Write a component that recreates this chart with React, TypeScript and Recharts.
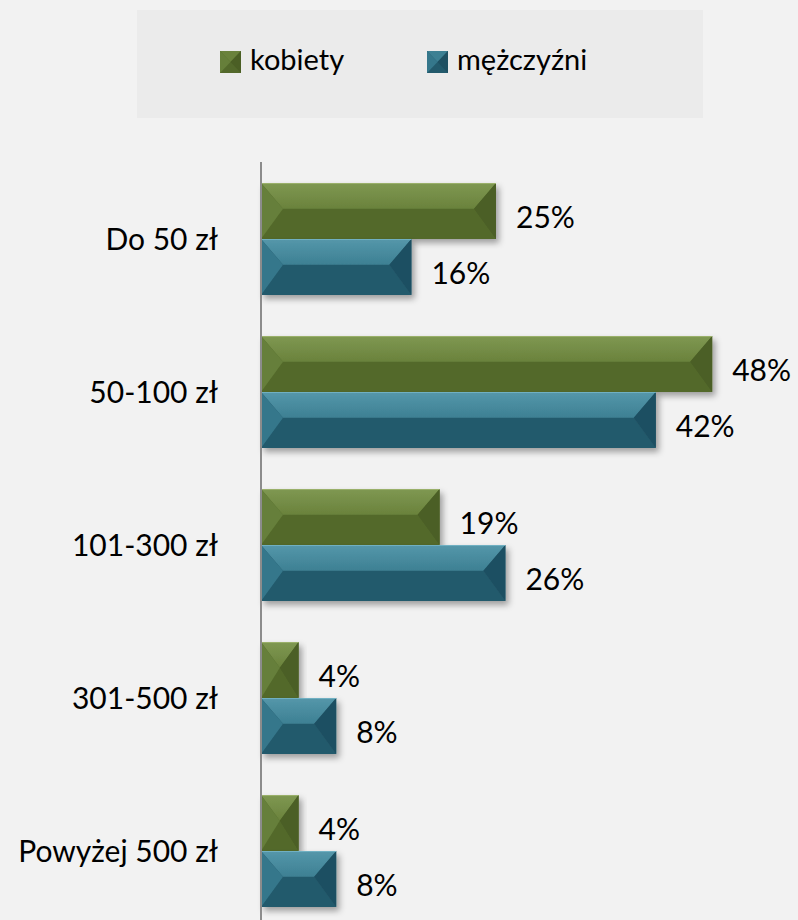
import React from "react";
import { BarChart, Bar, XAxis, YAxis, LabelList } from "recharts";

const categories = ["Do 50 zł", "50-100 zł", "101-300 zł", "301-500 zł", "Powyżej 500 zł"];
const kobiety = [25, 48, 19, 4, 4];
const mezczyzni = [16, 42, 26, 8, 8];
const seriesNames = ["kobiety", "mężczyźni"];

const data = categories.map((name, i) => ({
  name,
  kobiety: kobiety[i],
  mezczyzni: mezczyzni[i],
}));

const FONT = "Lato, 'Open Sans', sans-serif";

type Palette = { top: string; top2: string; bottom: string; left: string; right: string; edge: string };

const green: Palette = {
  top: "#7f9852",
  top2: "#6a823c",
  bottom: "#53692b",
  left: "#667f3a",
  right: "#4b5f25",
  edge: "#9ab06b",
};

const teal: Palette = {
  top: "#5597aa",
  top2: "#3d8093",
  bottom: "#235a6c",
  left: "#35778b",
  right: "#1f5062",
  edge: "#6fb0c2",
};

// bevelled bar, like the excel "angle" bevel
function bevelShape(p: Palette, id: string) {
  return (props: any) => {
    const { x, y, width, height } = props;
    if (!width || width <= 0) return <g />;
    const b = Math.min(22, width / 2);
    const m = y + height * 0.46;
    return (
      <g filter="url(#shadow)">
        <rect x={x} y={y} width={width} height={height} fill={p.bottom} />
        <polygon
          points={`${x},${y} ${x + width},${y} ${x + width - b},${m} ${x + b},${m}`}
          fill={`url(#top-${id})`}
        />
        <polygon points={`${x},${y} ${x + b},${m} ${x},${y + height}`} fill={p.left} />
        <polygon
          points={`${x + width},${y} ${x + width - b},${m} ${x + width},${y + height}`}
          fill={p.right}
        />
        <line x1={x} y1={y + 0.5} x2={x + width} y2={y + 0.5} stroke={p.edge} strokeWidth={1} />
      </g>
    );
  };
}

const renderValue = (props: any) => {
  const { x, y, width, height, value } = props;
  return (
    <text
      x={x + width + 20}
      y={y + height / 2 + 17}
      fontSize={30}
      fontFamily={FONT}
      fill="#000"
    >
      {value}%
    </text>
  );
};

const CategoryTick = (props: any) => {
  const { x, y, payload } = props;
  return (
    <text x={x - 35} y={y + 11} textAnchor="end" fontSize={30} fontFamily={FONT} fill="#000">
      {payload.value}
    </text>
  );
};

function LegendIcon({ p }: { p: Palette }) {
  return (
    <svg width={21} height={22} style={{ display: "block" }}>
      <rect x={0} y={0} width={21} height={22} fill={p.bottom} />
      <polygon points="0,0 21,0 10.5,11" fill={p.top2} />
      <polygon points="0,0 10.5,11 0,22" fill={p.left} />
      <polygon points="21,0 10.5,11 21,22" fill={p.right} />
    </svg>
  );
}

export default function App() {
  return (
    <div
      style={{
        position: "fixed",
        left: 0,
        top: 0,
        width: 798,
        height: 920,
        overflow: "hidden",
        background: "#f2f2f2",
        fontFamily: FONT,
      }}
    >
      <div
        style={{
          position: "absolute",
          left: 137,
          top: 10,
          width: 566,
          height: 108,
          background: "#ebebeb",
        }}
      >
        <div style={{ position: "absolute", left: 83, top: 41 }}>
          <LegendIcon p={green} />
        </div>
        <div style={{ position: "absolute", left: 113, top: 31, fontSize: 29 }}>{seriesNames[0]}</div>
        <div style={{ position: "absolute", left: 290, top: 41 }}>
          <LegendIcon p={teal} />
        </div>
        <div style={{ position: "absolute", left: 320, top: 31, fontSize: 29 }}>{seriesNames[1]}</div>
      </div>

      <div style={{ position: "absolute", left: 0, top: 0 }}>
        <BarChart
          width={798}
          height={927}
          data={data}
          layout="vertical"
          margin={{ top: 162, right: 67, bottom: 0, left: 0 }}
          barGap={0}
          barSize={56}
        >
          <defs>
            <filter id="shadow" x="-10%" y="-20%" width="130%" height="150%">
              <feDropShadow dx={3} dy={4} stdDeviation={3} floodColor="#000" floodOpacity={0.35} />
            </filter>
            <linearGradient id="top-g" x1="0" y1="0" x2="0" y2="1">
              <stop offset="0%" stopColor={green.top} />
              <stop offset="100%" stopColor={green.top2} />
            </linearGradient>
            <linearGradient id="top-t" x1="0" y1="0" x2="0" y2="1">
              <stop offset="0%" stopColor={teal.top} />
              <stop offset="100%" stopColor={teal.top2} />
            </linearGradient>
          </defs>
          <XAxis type="number" domain={[0, 50]} hide />
          <YAxis
            type="category"
            dataKey="name"
            width={261}
            axisLine={{ stroke: "#8c8c8c", strokeWidth: 2 }}
            tickLine={false}
            tick={<CategoryTick />}
          />
          <Bar dataKey="kobiety" name={seriesNames[0]} shape={bevelShape(green, "g")} isAnimationActive={false}>
            <LabelList dataKey="kobiety" content={renderValue} />
          </Bar>
          <Bar dataKey="mezczyzni" name={seriesNames[1]} shape={bevelShape(teal, "t")} isAnimationActive={false}>
            <LabelList dataKey="mezczyzni" content={renderValue} />
          </Bar>
        </BarChart>
      </div>
    </div>
  );
}
